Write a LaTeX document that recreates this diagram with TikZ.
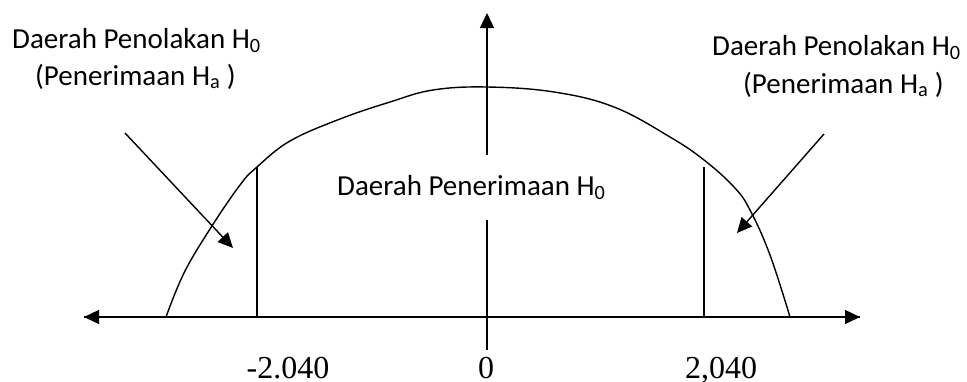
\documentclass[tikz,border=0pt]{standalone}
\usepackage{fontspec}
\setmainfont{Liberation Serif}
\newfontfamily\lblfont{Carlito}
\usetikzlibrary{arrows.meta}
\tikzset{
  ln/.style={line width=1.4pt},
  arr/.style={ln,-{Triangle[length=15pt,width=14pt]}},
  lbl/.style={font=\lblfont\fontsize{29}{34}\selectfont, inner sep=0pt, anchor=base west},
  num/.style={font=\fontsize{32}{36}\selectfont, inner sep=0pt, anchor=base}
}
\begin{document}
\begin{tikzpicture}[x=1pt,y=-1pt]
\useasboundingbox (0,0) rectangle (967,381);
% axes
\coordinate (xl) at (84,317);
\coordinate (xr) at (860,317);
\coordinate (ytop) at (487,13);
\coordinate (yup) at (487,155);
\coordinate (ylow) at (487,220);
\coordinate (ybot) at (487,350);
\draw[arr] (xr) -- (xl);
\draw[arr] (xl) -- (xr);
\draw[arr] (yup) -- (ytop);
\draw[ln] (ylow) -- (ybot);
% curve
\draw[ln] plot[smooth, tension=0.65] coordinates {(166,317) (184,273) (210,229) (240,185) (257,167) (290,141) (340,119) (390,102) (433,90) (487,87) (554,92) (614,107) (670,137) (704,160) (734,187) (750,210) (770,255) (790,317)};
% critical lines
\coordinate (lt) at (257,167);
\coordinate (lb) at (257,317);
\coordinate (rt) at (704,167);
\coordinate (rb) at (704,317);
\draw[ln] (lt) -- (lb);
\draw[ln] (rt) -- (rb);
% labels
\node[lbl] (l1) at (12,48) {Daerah Penolakan H\textsubscript{0}};
\node[lbl] (l2) at (35,85) {(Penerimaan H\textsubscript{a} )};
\node[lbl] (r1) at (712,55) {Daerah Penolakan H\textsubscript{0}};
\node[lbl] (r2) at (743,93) {(Penerimaan H\textsubscript{a} )};
\node[lbl] (c1) at (337,195) {Daerah Penerimaan H\textsubscript{0}};
% pointer arrows
\coordinate (la0) at (125,133);
\coordinate (la1) at (233,248);
\coordinate (ra0) at (824,134);
\coordinate (ra1) at (737,233);
\draw[arr] (la0) -- (la1);
\draw[arr] (ra0) -- (ra1);
% numbers
\node[num] (n1) at (288,378) {-2.040};
\node[num] (n2) at (486,378) {0};
\node[num] (n3) at (721,378) {2,040};
\end{tikzpicture}
\end{document}
